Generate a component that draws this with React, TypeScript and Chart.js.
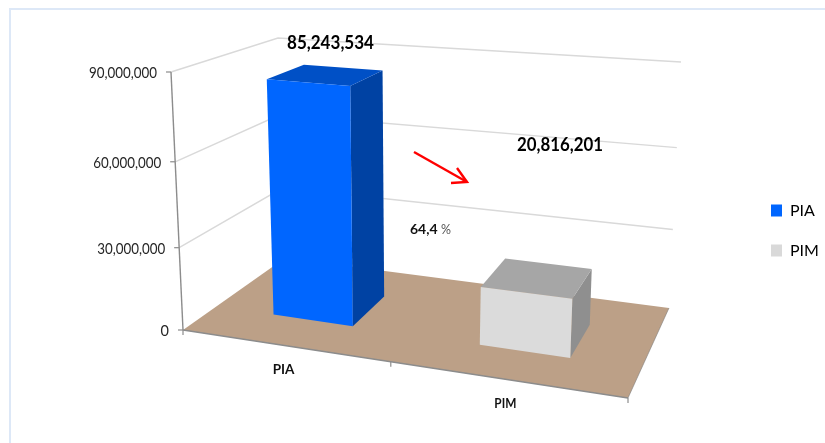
import React, { useEffect, useRef } from "react";
import { Chart, registerables } from "chart.js";

Chart.register(...registerables);

const categories = ["PIA", "PIM"];
const values = [85243534, 20816201];
const frontColors = ["#0066FF", "#DBDBDB"];
const topColors = ["#0050C6", "#A6A6A6"];
const sideColors = ["#0042A3", "#8F8F8F"];
const legendColors = ["#0066FF", "#D9D9D9"];
const valueTicks = [0, 30000000, 60000000, 90000000];
const percentLabel = "64,4";

type P = [number, number];
// Corners of the 3D box that Excel projected the plot into.
const FLB: P = [183, 330], FRB: P = [628, 398], BLB: P = [285, 258], BRB: P = [669, 308];
const FLT: P = [171, 72], FRT: P = [642, 111], BLT: P = [278, 38], BRT: P = [681, 62];
const DEPTH_FRONT = 0.33, DEPTH_BACK = 0.71;
const persp = (t: number, a: number) => (a * t) / (1 + (a - 1) * t);
const lerp = (a: number, b: number, t: number) => a + (b - a) * t;

function project(u: number, v: number, d: number): P {
  const su = persp(u, 0.876);
  const sv = persp(v, 0.937);
  const out: P = [0, 0];
  for (const i of [0, 1]) {
    const bottom = lerp(lerp(FLB[i], FRB[i], su), lerp(BLB[i], BRB[i], su), d);
    const top = lerp(lerp(FLT[i], FRT[i], su), lerp(BLT[i], BRT[i], su), d);
    out[i] = lerp(bottom, top, sv);
  }
  return out;
}

function poly(ctx: CanvasRenderingContext2D, pts: P[], fill: string) {
  ctx.beginPath();
  pts.forEach((p, i) => (i ? ctx.lineTo(p[0], p[1]) : ctx.moveTo(p[0], p[1])));
  ctx.closePath();
  ctx.fillStyle = fill;
  ctx.fill();
}

function line(ctx: CanvasRenderingContext2D, pts: P[], color: string, w: number) {
  ctx.beginPath();
  pts.forEach((p, i) => (i ? ctx.lineTo(p[0], p[1]) : ctx.moveTo(p[0], p[1])));
  ctx.strokeStyle = color;
  ctx.lineWidth = w;
  ctx.stroke();
}

function text(ctx: CanvasRenderingContext2D, s: string, x: number, y: number, font: string, color: string, align: CanvasTextAlign = "left", maxWidth?: number) {
  ctx.font = font;
  ctx.fillStyle = color;
  ctx.textAlign = align;
  ctx.textBaseline = "middle";
  if (maxWidth) ctx.fillText(s, x, y, maxWidth);
  else ctx.fillText(s, x, y);
}

const fmt = (n: number) => n.toLocaleString("en-US");

const scene3d = {
  id: "scene3d",
  afterLayout(chart: any) {
    const lg = chart.legend;
    lg.left = 747;
    lg.right = 825;
    lg.top = 18;
    lg.bottom = 443;
  },
  beforeDatasetsDraw(chart: any) {
    const { ctx, chartArea: a, scales } = chart;
    const xs = scales.x, ys = scales.y;
    const V = (val: number) => (a.bottom - ys.getPixelForValue(val)) / a.height;
    ctx.save();
    ctx.lineCap = "butt";

    // frame
    ctx.fillStyle = "#DDE8F7";
    ctx.fillRect(9, 8, 816, 2);
    ctx.fillRect(9, 8, 2, 435);

    // gridlines on the walls
    valueTicks.slice(1).forEach((t) => {
      const v = V(t);
      line(ctx, [project(0, v, 0), project(0, v, 1), project(1, v, 1)], "#D9D9D9", 1.4);
    });

    // floor
    poly(ctx, [project(0, 0, 0), project(1, 0, 0), project(1, 0, 1), project(0, 0, 1)], "#BCA087");
    line(ctx, [project(1, 0, 0), project(1, 0, 1)], "rgba(120,120,120,0.55)", 1);

    // axes
    line(ctx, [project(0, 1, 0), project(0, 0, 0)], "#8C8C8C", 1.4);
    line(ctx, [project(0, 0, 0), project(1, 0, 0)], "#8C8C8C", 1.6);
    valueTicks.forEach((t) => {
      const p = project(0, V(t), 0);
      line(ctx, [[p[0] - 5, p[1]], p], "#8C8C8C", 1.2);
      const s = fmt(t);
      text(ctx, s, p[0] - 14, p[1] + 1.5, "14.5px Lato", "#262626", "right", s.length > 1 ? 68 : undefined);
    });
    [0, 0.5, 1].forEach((u) => {
      const p = project(u, 0, 0);
      line(ctx, [p, [p[0], p[1] + 5]], "#8C8C8C", 1.2);
    });

    // bars
    const meta = chart.getDatasetMeta(0);
    meta.data.forEach((el: any, i: number) => {
      const u0 = (el.x - el.width / 2 - a.left) / a.width;
      const u1 = (el.x + el.width / 2 - a.left) / a.width;
      const v = (a.bottom - el.y) / a.height;
      const f = DEPTH_FRONT, b = DEPTH_BACK;
      poly(ctx, [project(u1, 0, f), project(u1, 0, b), project(u1, v, b), project(u1, v, f)], sideColors[i]);
      poly(ctx, [project(u0, v, f), project(u1, v, f), project(u1, v, b), project(u0, v, b)], topColors[i]);
      poly(ctx, [project(u0, 0, f), project(u1, 0, f), project(u1, v, f), project(u0, v, f)], frontColors[i]);
    });

    // category labels
    categories.forEach((_, i) => {
      const u = (xs.getPixelForValue(i) - a.left) / a.width;
      const p = project(u, 0, 0);
      text(ctx, xs.getLabelForValue(i), p[0], p[1] + 24.5, "bold 13.5px Lato", "#111111", "center", 22);
    });

    // value labels and annotations
    text(ctx, fmt(values[0]), 330.5, 43, "bold 18px Lato", "#000000", "center", 87);
    text(ctx, fmt(values[1]), 560, 145, "bold 18px Lato", "#000000", "center", 86);
    text(ctx, percentLabel, 410, 229, "bold 14px Lato", "#111111", "left", 28);
    text(ctx, "%", 441, 229, "14px Lato", "#555555", "left", 10);

    line(ctx, [[414, 152], [467, 182]], "#FF0000", 2.4);
    line(ctx, [[457, 168], [467, 182], [451, 183]], "#FF0000", 2.4);

    ctx.restore();
    return false;
  },
};

export default function App() {
  const ref = useRef<HTMLCanvasElement>(null);
  useEffect(() => {
    document.body.style.margin = "0";
    const chart = new Chart(ref.current as HTMLCanvasElement, {
      type: "bar",
      data: {
        labels: categories,
        datasets: [{ data: values, backgroundColor: frontColors, barPercentage: 0.4, categoryPercentage: 1 }],
      },
      options: {
        responsive: false,
        animation: false,
        layout: { padding: 0 },
        scales: {
          x: { display: false },
          y: { display: false, min: 0, max: 90000000, ticks: { stepSize: 30000000 } },
        },
        plugins: {
          tooltip: { enabled: false },
          title: { display: false },
          legend: {
            position: "right",
            labels: {
              boxWidth: 11,
              boxHeight: 12,
              padding: 24,
              color: "#262626",
              font: { family: "Lato", size: 16 },
              generateLabels: () =>
                categories.map((c, i) => ({
                  text: c,
                  fillStyle: legendColors[i],
                  strokeStyle: legendColors[i],
                  lineWidth: 0,
                  hidden: false,
                  index: i,
                })),
            },
          },
        },
      },
      plugins: [scene3d],
    } as any);
    return () => chart.destroy();
  }, []);
  return <canvas ref={ref} width={825} height={443} style={{ display: "block", background: "#FFFFFF" }} />;
}
